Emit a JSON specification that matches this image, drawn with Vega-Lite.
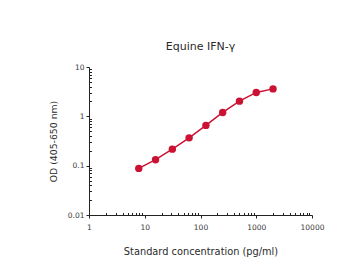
{
  "$schema": "https://vega.github.io/schema/vega-lite/v6.json",
  "width": 223,
  "height": 148,
  "autosize": {"type": "none"},
  "padding": {"left": 89, "top": 67, "right": 50, "bottom": 65},
  "background": "white",
  "title": {"text": "Equine IFN-γ", "font": "DejaVu Sans", "fontSize": 11, "fontWeight": "normal", "color": "#2a2a2a", "anchor": "middle", "offset": 11},
  "config": {"view": {"stroke": null}},
  "data": {"values": [
    {"conc": 7.8125, "od": 0.088},
    {"conc": 15.625, "od": 0.132},
    {"conc": 31.25, "od": 0.216},
    {"conc": 62.5, "od": 0.366},
    {"conc": 125, "od": 0.655},
    {"conc": 250, "od": 1.2},
    {"conc": 500, "od": 2.03},
    {"conc": 1000, "od": 3.05},
    {"conc": 2000, "od": 3.6}
  ]},
  "layer": [
    {
      "mark": {"type": "line", "color": "#cc1233", "strokeWidth": 1.5},
      "encoding": {
        "x": {"field": "conc", "type": "quantitative",
          "scale": {"type": "log", "domain": [1, 10000], "nice": false},
          "axis": {"orient": "bottom", "values": [1, 10, 100, 1000, 10000], "format": "~g", "grid": false,
            "title": "Standard concentration (pg/ml)", "titleFont": "DejaVu Sans", "titleFontSize": 9.8, "titleFontWeight": "normal", "titleColor": "#2a2a2a", "titlePadding": 16,
            "labelFont": "DejaVu Sans", "labelFontSize": 7.5, "labelColor": "#3a3a3a", "labelPadding": 5, "labelFlush": false,
            "domainColor": "#222222", "domainWidth": 1, "tickColor": "#222222", "tickSize": 3, "tickWidth": 1}},
        "y": {"field": "od", "type": "quantitative",
          "scale": {"type": "log", "domain": [0.01, 10], "nice": false},
          "axis": {"orient": "left", "values": [0.01, 0.1, 1, 10], "format": "~g", "grid": false,
            "title": "OD (405-650 nm)", "titleFont": "DejaVu Sans", "titleFontSize": 9.3, "titleFontWeight": "normal", "titleColor": "#2a2a2a", "titlePadding": 9,
            "labelFont": "DejaVu Sans", "labelFontSize": 7.5, "labelColor": "#3a3a3a", "labelPadding": 2, "labelFlush": false,
            "domainColor": "#222222", "domainWidth": 1, "tickColor": "#222222", "tickSize": 3, "tickWidth": 1}}
      }
    },
    {
      "mark": {"type": "point", "filled": true, "color": "#cc1233", "opacity": 1, "size": 55},
      "encoding": {
        "x": {"field": "conc", "type": "quantitative",
          "scale": {"type": "log", "domain": [1, 10000], "nice": false},
          "axis": {"orient": "bottom", "values": [2,3,4,5,6,7,8,9,20,30,40,50,60,70,80,90,200,300,400,500,600,700,800,900,2000,3000,4000,5000,6000,7000,8000,9000],
            "labels": false, "domain": false, "grid": false, "title": null, "tickSize": -2.5, "tickColor": "#222222", "tickWidth": 1}},
        "y": {"field": "od", "type": "quantitative",
          "scale": {"type": "log", "domain": [0.01, 10], "nice": false},
          "axis": {"orient": "left", "values": [0.02,0.03,0.04,0.05,0.06,0.07,0.08,0.09,0.2,0.3,0.4,0.5,0.6,0.7,0.8,0.9,2,3,4,5,6,7,8,9],
            "labels": false, "domain": false, "grid": false, "title": null, "tickSize": -2.5, "tickColor": "#222222", "tickWidth": 1}}
      }
    }
  ],
  "resolve": {"axis": {"x": "independent", "y": "independent"}}
}
